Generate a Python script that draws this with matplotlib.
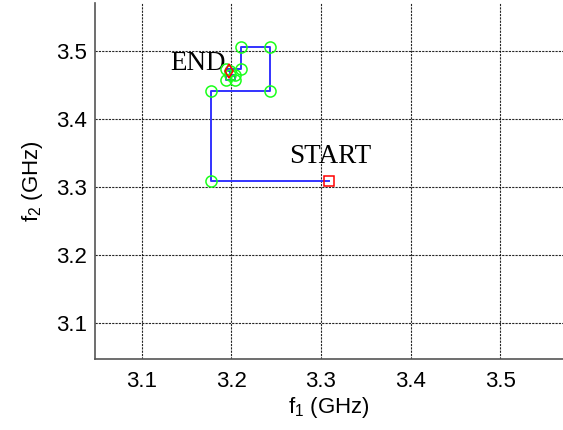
import matplotlib
matplotlib.use("Agg")
import matplotlib.pyplot as plt

plt.rcParams['mathtext.fontset'] = 'custom'
plt.rcParams['mathtext.rm'] = 'Liberation Sans'
plt.rcParams['mathtext.it'] = 'Liberation Sans'
plt.rcParams['mathtext.default'] = 'rm'

# Path of the search (f1, f2) in GHz
f1_path = [3.309, 3.1777, 3.1777, 3.2431, 3.2431, 3.2104, 3.2104, 3.1945, 3.1945, 3.2045, 3.2045, 3.1985, 3.1985, 3.1978]
f2_path = [3.3088, 3.3088, 3.4407, 3.4407, 3.5059, 3.5059, 3.4725, 3.4725, 3.4575, 3.4575, 3.4640, 3.4640, 3.4694, 3.4694]

start_pt = (3.309, 3.3088)
end_pt = (3.1978, 3.4694)

ticks = [3.1, 3.2, 3.3, 3.4, 3.5]
tick_labels = ["3.1", "3.2", "3.3", "3.4", "3.5"]

fig = plt.figure(figsize=(5.63, 4.30), dpi=100)
ax = fig.add_axes([95/563, (430-358.7)/430, (563-95)/563, (358.7-3)/430])

ax.plot(f1_path, f2_path, color=(0.2, 0.2, 1.0), lw=1.4, zorder=3)
ax.plot(f1_path[1:-1], f2_path[1:-1], 'o', mfc='none', mec=(0.1, 1.0, 0.1), ms=8, mew=1.1, zorder=4, ls='none')
ax.plot([start_pt[0]], [start_pt[1]], 's', mfc='none', mec='red', ms=7, mew=1.1, zorder=5)
ax.plot([end_pt[0]], [end_pt[1]], 'd', mfc='none', mec='red', ms=7, mew=1.1, zorder=5)

ax.text(3.2647, 3.3353, "START", family="Liberation Serif", fontsize=19.5, ha='left', va='baseline')
ax.text(3.1317, 3.4716, "END", family="Liberation Serif", fontsize=19.5, ha='left', va='baseline')

ax.set_xlim(3.048, 3.570)
ax.set_ylim(3.047, 3.570)
ax.set_xticks(ticks)
ax.set_xticklabels(tick_labels)
ax.set_yticks(ticks)
ax.set_yticklabels(tick_labels)

for lab in ax.get_xticklabels() + ax.get_yticklabels():
    lab.set_family("Liberation Sans")
    lab.set_fontsize(16)

ax.tick_params(axis='both', length=0)
ax.tick_params(axis='x', pad=9)
ax.tick_params(axis='y', pad=6)

ax.grid(True, color='#000000', linestyle=(0, (2, 1)), linewidth=0.8, alpha=0.85)
ax.set_axisbelow(True)

for s in ['top', 'right']:
    ax.spines[s].set_visible(False)
for s in ['left', 'bottom']:
    ax.spines[s].set_color('#555555')
    ax.spines[s].set_linewidth(1.2)

ax.set_xlabel(r"f$_1$ (GHz)", family="Liberation Sans", fontsize=16, labelpad=2)
ax.set_ylabel(r"f$_2$ (GHz)", family="Liberation Sans", fontsize=16, labelpad=8)

fig.savefig("out.png", dpi=100)
